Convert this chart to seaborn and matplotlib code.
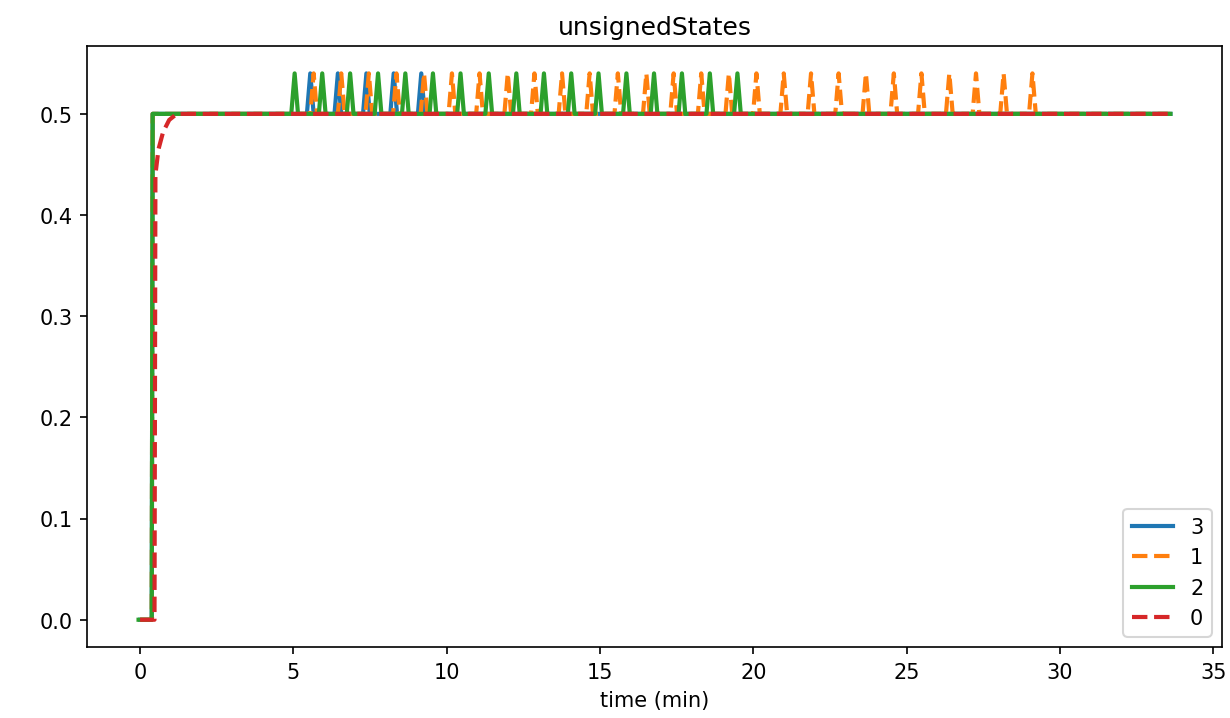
import numpy as np
import pandas as pd
import matplotlib
matplotlib.use("Agg")
import matplotlib.pyplot as plt
import seaborn as sns

# valores
t_end = 33.6
nivel = 0.5
pico = 0.54

# inicio de cada serie (tiempo, valor)
inicio_3 = [(0.0, 0.0), (0.38, 0.0), (0.41, 0.5)]
inicio_1 = [(0.0, 0.0), (0.38, 0.0), (0.41, 0.5)]
inicio_2 = [(-0.05, 0.0), (0.38, 0.0), (0.41, 0.5)]
inicio_0 = [(0.0, 0.0), (0.47, 0.0), (0.5, 0.44), (0.6, 0.465), (0.75, 0.482),
            (0.95, 0.494), (1.2, 0.5)]

# tiempos de los picos (min)
picos_3 = [5.55, 6.45, 7.38, 8.27, 9.17]
picos_1 = [5.66, 6.56, 7.46, 8.36, 9.26, 10.17, 11.07, 11.99, 12.86, 13.76,
           14.66, 15.58, 16.51, 17.40, 18.30, 19.20, 20.10, 20.99, 21.88,
           22.78, 23.67, 24.58, 25.48, 26.39, 27.26, 28.16, 29.10]
picos_2 = [5.04, 5.94, 6.85, 7.76, 8.65, 9.55, 10.45, 11.37, 12.27, 13.17,
           14.06, 14.95, 15.86, 16.76, 17.67, 18.58, 19.48]
picos_0 = []

ancho = 0.11


def serie(inicio, picos):
    t = [p[0] for p in inicio]
    v = [p[1] for p in inicio]
    for tp in picos:
        t += [tp - ancho, tp, tp + ancho]
        v += [nivel, pico, nivel]
    t.append(t_end)
    v.append(nivel)
    return pd.DataFrame({"time": t, "value": v})


series = [
    ("3", serie(inicio_3, picos_3), "C0", "-"),
    ("1", serie(inicio_1, picos_1), "C1", "--"),
    ("2", serie(inicio_2, picos_2), "C2", "-"),
    ("0", serie(inicio_0, picos_0), "C3", "--"),
]

fig, ax = plt.subplots(figsize=(8.2, 4.793), dpi=150)
for nombre, df, color, ls in series:
    sns.lineplot(x="time", y="value", data=df, ax=ax, color=color,
                 linestyle=ls, linewidth=2, label=nombre, sort=False,
                 estimator=None)

ax.set_title("unsignedStates")
ax.set_xlabel("time (min)")
ax.set_ylabel("")
ax.legend(loc="lower right")
fig.subplots_adjust(left=0.0707, right=0.9935, top=0.9346, bottom=0.0987)
fig.savefig("out.png", dpi=150)
